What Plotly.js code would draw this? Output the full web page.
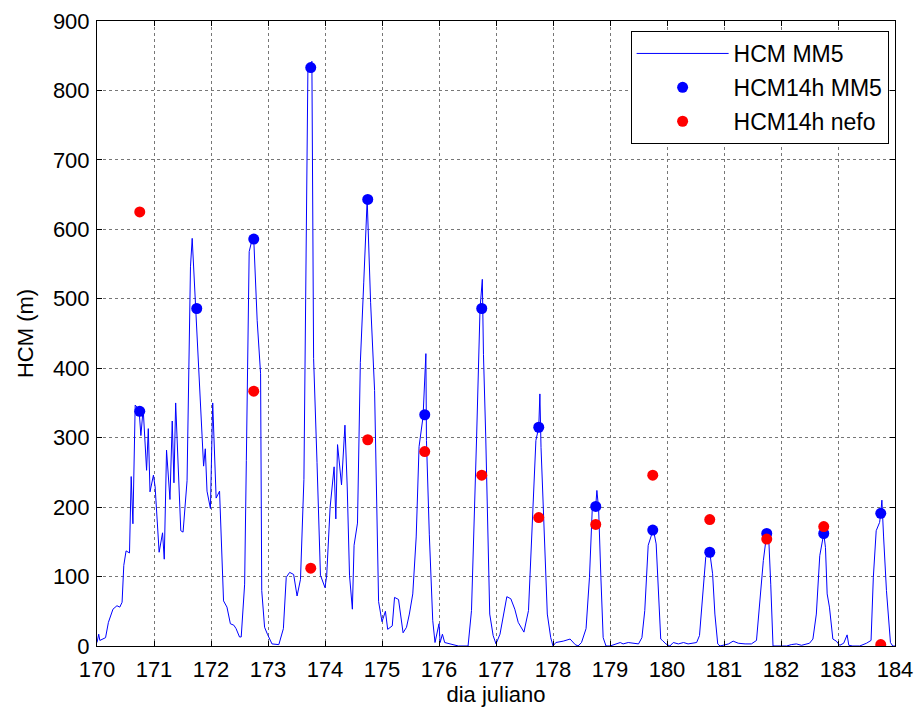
<!DOCTYPE html>
<html>
<head>
<meta charset="utf-8">
<script src="https://cdn.plot.ly/plotly-3.0.1.min.js"></script>
<style>html,body{margin:0;padding:0;background:#fff;}#chart{width:919px;height:708px;}</style>
</head>
<body>
<div id="chart"></div>
<script>
// HCM MM5 hourly-ish line (julian day, metres)
const lineDay = [170.00,170.03,170.05,170.15,170.2,170.28,170.35,170.4,170.44,170.47,170.51,170.57,170.6,170.63,170.67,170.70,170.74,170.77,170.81,170.87,170.9,170.93,170.99,171.02,171.09,171.15,171.18,171.22,171.28,171.32,171.35,171.38,171.47,171.51,171.58,171.61,171.64,171.67,171.71,171.74,171.78,171.83,171.87,171.9,171.93,171.99,172.03,172.09,172.15,172.22,172.28,172.34,172.4,172.44,172.5,172.53,172.59,172.62,172.67,172.72,172.75,172.81,172.87,172.89,172.94,172.99,173.07,173.19,173.27,173.32,173.38,173.45,173.51,173.57,173.63,173.7,173.75,173.77,173.8,173.86,173.92,174.0,174.03,174.09,174.16,174.19,174.22,174.29,174.35,174.39,174.43,174.48,174.51,174.57,174.62,174.68,174.74,174.8,174.87,174.94,175.0,175.06,175.1,175.18,175.22,175.29,175.37,175.43,175.48,175.54,175.6,175.65,175.72,175.77,175.78,175.83,175.89,175.93,175.97,176.0,176.02,176.06,176.1,176.22,176.34,176.51,176.57,176.66,176.72,176.76,176.78,176.82,176.89,176.95,177.0,177.07,177.14,177.19,177.26,177.33,177.39,177.49,177.57,177.63,177.7,177.75,177.77,177.79,177.85,177.9,177.96,178.0,178.05,178.18,178.3,178.39,178.44,178.5,178.58,178.64,178.69,178.75,178.77,178.8,178.84,178.88,178.93,179.0,179.18,179.23,179.32,179.44,179.5,179.56,179.61,179.67,179.71,179.76,179.81,179.85,179.89,179.92,179.98,180.05,180.11,180.2,180.29,180.37,180.46,180.52,180.57,180.63,180.68,180.75,180.8,180.84,180.89,180.93,181.0,181.08,181.16,181.25,181.37,181.48,181.57,181.63,181.69,181.75,181.78,181.82,181.86,182.0,182.1,182.18,182.27,182.36,182.45,182.5,182.56,182.62,182.68,182.73,182.75,182.78,182.81,182.85,182.91,182.97,183.03,183.1,183.16,183.19,183.26,183.38,183.5,183.58,183.62,183.67,183.73,183.75,183.77,183.8,183.85,183.92,183.96,184.0];
const lineHCM = [5,17,8,12,34,53,58,56,63,116,137,134,244,176,347,344,338,303,342,253,313,222,246,229,135,163,125,282,211,324,235,350,166,164,238,392,546,587,522,486,402,335,259,284,223,198,350,213,223,65,56,32,30,25,13,13,89,267,568,585,586,469,392,80,27,17,3,2,25,99,106,103,72,96,240,830,836,842,414,264,102,84,102,200,258,183,290,232,318,229,102,53,145,177,408,524,643,495,368,64,35,50,24,29,70,67,19,27,46,75,157,287,330,421,296,161,37,5,20,32,5,17,5,2,0,0,51,301,486,528,420,301,46,15,3,17,46,71,68,53,34,20,51,161,296,315,363,286,161,46,12,0,5,7,10,2,0,5,25,99,200,202,224,198,99,12,0,0,5,3,5,3,3,12,51,145,157,168,147,80,10,8,3,0,5,3,5,3,4,5,15,75,128,135,104,46,3,0,1,3,7,4,3,3,8,70,123,162,164,89,0,0,0,2,3,1,3,4,10,46,130,157,162,142,75,56,10,7,1,4,16,1,0,0,4,8,99,166,178,191,210,157,80,5,0,0];

// 14h values
const dotDay = [170.75,171.75,172.75,173.75,174.75,175.75,176.75,177.75,178.75,179.75,180.75,181.75,182.75,183.75];
const hcm14MM5 = [338,486,586,833,643,333,486,315,201,167,135,162,162,191];
const hcm14Nefo = [625,null,367,112,297,280,246,185,175,246,182,154,172,2];

const xTicks = [170,171,172,173,174,175,176,177,178,179,180,181,182,183,184];
const yTicks = [0,100,200,300,400,500,600,700,800,900];

const traces = [
  {x: lineDay, y: lineHCM, type: 'scatter', mode: 'lines', name: 'HCM MM5',
   line: {color: '#0000ff', width: 1}, legendgroup: 'a'},
  {x: dotDay, y: hcm14MM5, type: 'scatter', mode: 'markers', name: 'HCM14h MM5',
   marker: {color: '#0000ff', size: 11}, legendgroup: 'b'},
  {x: dotDay, y: hcm14Nefo, type: 'scatter', mode: 'markers', name: 'HCM14h nefo',
   marker: {color: '#ff0000', size: 11}, legendgroup: 'c'}
];

const FONT = 'Liberation Sans, Arial, sans-serif';
const axisCommon = {
  showline: true, linecolor: '#000', linewidth: 1, mirror: 'ticks',
  ticks: 'inside', ticklen: 5, tickcolor: '#000',
  showgrid: true, gridcolor: '#777', griddash: 'dot', gridwidth: 1,
  zeroline: false,
  tickfont: {family: FONT, size: 22, color: '#000'}
};

const layout = {
  width: 919, height: 708,
  margin: {l: 97, r: 24, t: 21, b: 62},
  paper_bgcolor: '#fff', plot_bgcolor: '#fff',
  font: {family: FONT, color: '#000'},
  xaxis: Object.assign({}, axisCommon, {
    range: [170, 184], tickvals: xTicks, ticktext: xTicks.map(String),
    ticklabelstandoff: 4,
    title: {text: 'dia juliano', font: {size: 22, color: '#000'}, standoff: 4}
  }),
  yaxis: Object.assign({}, axisCommon, {
    range: [0, 900], tickvals: yTicks, ticktext: yTicks.map(String),
    ticklabelstandoff: 2,
    title: {text: 'HCM (m)', font: {size: 22, color: '#000'}, standoff: 13}
  }),
  showlegend: true,
  legend: {
    x: 0.992, y: 0.984, xanchor: 'right', yanchor: 'top',
    bgcolor: '#fff', bordercolor: '#000', borderwidth: 1,
    font: {family: FONT, size: 23, color: '#000'},
    traceorder: 'grouped', tracegroupgap: 1, itemwidth: 92
  }
};

Plotly.newPlot('chart', traces, layout, {displayModeBar: false, staticPlot: true});
</script>
</body>
</html>
